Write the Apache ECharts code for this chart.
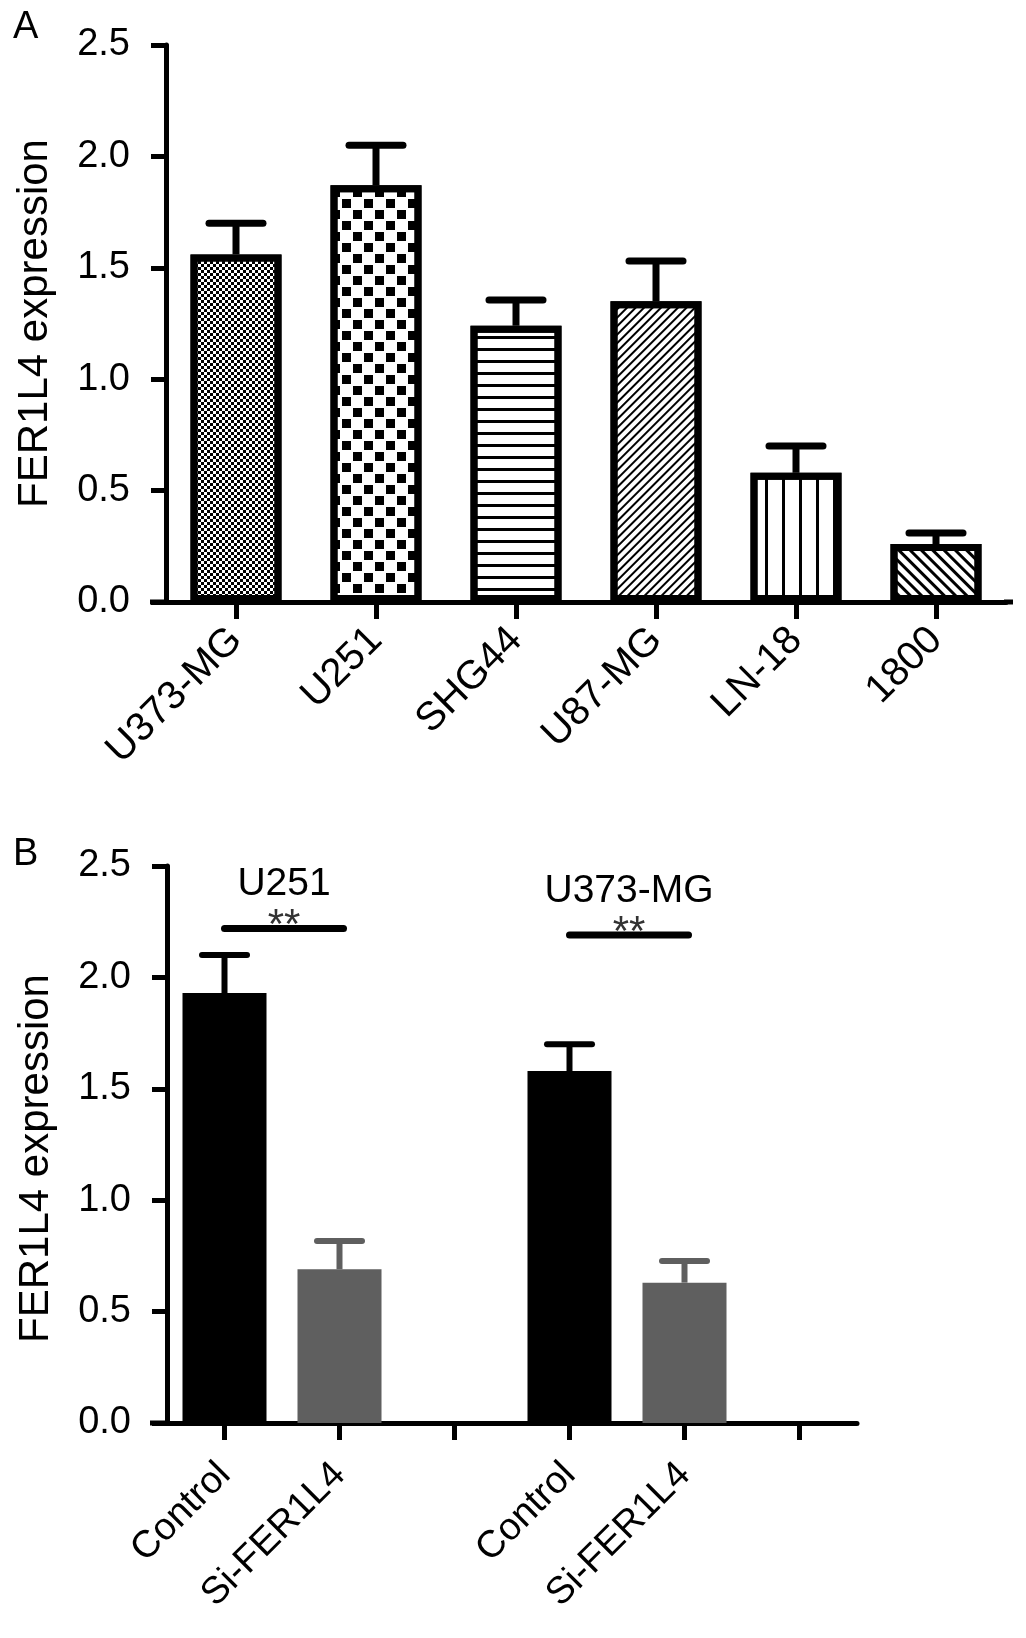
<!DOCTYPE html>
<html><head><meta charset="utf-8">
<script src="https://cdn.jsdelivr.net/npm/echarts@6/dist/echarts.min.js"></script>
<style>html,body{margin:0;padding:0;background:#fff}#c{width:1026px;height:1638px}</style>
</head><body><div id="c"></div>
<script>
// ---- data ----
const catsA = ['U373-MG', 'U251', 'SHG44', 'U87-MG', 'LN-18', '1800'];
const meanA = [1.56, 1.87, 1.24, 1.35, 0.58, 0.26];
const errTopA = [1.70, 2.05, 1.355, 1.53, 0.70, 0.31];

const catsB = ['Control', 'Si-FER1L4', '', 'Control', 'Si-FER1L4', ''];
const meanB = [1.93, 0.69, null, 1.58, 0.63, null];
const errTopB = [2.10, 0.817, null, 1.70, 0.727, null];
const groupLabelsB = ['U251', 'U373-MG'];
const sigPairsB = [[0, 1, 2.22], [3, 4, 2.19]];
const sigMarksB = ['**', '**'];

const yTickLabels = ['0.0', '0.5', '1.0', '1.5', '2.0', '2.5'];
const yName = 'FER1L4 expression';
const panelLetters = ['A', 'B'];

// ---- styles ----
const FONT = '"Liberation Sans", Arial, Helvetica, sans-serif';
const decalsA = [
  {symbol: 'rect', symbolSize: 1, color: '#000', dashArrayX: [[2.5, 2.5], [0, 2.5, 2.5, 0]], dashArrayY: [2.5, 0]},
  {symbol: 'rect', symbolSize: 0.82, color: '#000', dashArrayX: [[11, 11], [0, 11, 11, 0]], dashArrayY: [11, 0]},
  {symbol: 'rect', symbolSize: 1, color: '#000', dashArrayX: [1, 0], dashArrayY: [2.5, 8.5]},
  {symbol: 'rect', symbolSize: 1, color: '#000', dashArrayX: [1, 0], dashArrayY: [1.6, 3.4], rotation: -Math.PI / 4},
  {symbol: 'rect', symbolSize: 1, color: '#000', dashArrayX: [2.5, 13.5], dashArrayY: [1, 0]},
  {symbol: 'rect', symbolSize: 1, color: '#000', dashArrayX: [1, 0], dashArrayY: [2.6, 4.4], rotation: Math.PI / 4}
];
const colorsB = ['#000000', '#5f5f5f', '#000000', '#000000', '#5f5f5f', '#000000'];

function yAxisCfg(gi, pad) {
  return {
    type: 'value', gridIndex: gi, min: 0, max: 2.5, interval: 0.5,
    name: yName, nameLocation: 'middle', nameGap: 110,
    nameTextStyle: {fontSize: 42, color: '#000', fontFamily: FONT, padding: pad},
    axisLine: {show: true, lineStyle: {color: '#000', width: 5}},
    axisTick: {show: true, length: 15, lineStyle: {color: '#000', width: 5}},
    axisLabel: {fontSize: 38, color: '#000', fontFamily: FONT, margin: 36,
      formatter: (v) => yTickLabels[Math.round(v / 0.5)]},
    splitLine: {show: false}
  };
}
function xAxisCfg(gi, cats, fs, mg) {
  return {
    type: 'category', gridIndex: gi, data: cats,
    axisLine: {show: true, lineStyle: {color: '#000', width: 5}},
    axisTick: {show: true, alignWithLabel: true, length: 17, lineStyle: {color: '#000', width: 5}},
    axisLabel: {rotate: 45, interval: 0, fontSize: fs, color: '#000', fontFamily: FONT, margin: mg},
    splitLine: {show: false}
  };
}
function errRender(colorOf, capW, lw) {
  return function (params, api) {
    const i = api.value(0);
    const p0 = api.coord([i, api.value(1)]);
    const p1 = api.coord([i, api.value(2)]);
    const c = colorOf(i);
    return {type: 'group', children: [
      {type: 'line', shape: {x1: p0[0], y1: p0[1], x2: p1[0], y2: p1[1]}, style: {stroke: c, lineWidth: lw}},
      {type: 'line', shape: {x1: p1[0] - capW / 2, y1: p1[1], x2: p1[0] + capW / 2, y2: p1[1]},
        style: {stroke: c, lineWidth: lw, lineCap: 'round'}}
    ]};
  };
}

const errDataA = meanA.map((m, i) => [i, m, errTopA[i]]);
const errDataB = [];
meanB.forEach((m, i) => { if (m != null) errDataB.push([i, m, errTopB[i]]); });
const sigData = sigPairsB.map((p, k) => [p[0], p[1], p[2], k]);

const option = {
  animation: false,
  backgroundColor: '#fff',
  textStyle: {fontFamily: FONT},
  grid: [
    {left: 166, top: 45, width: 840, height: 557, containLabel: false, outerBoundsMode: 'none'},
    {left: 167, top: 866, width: 690, height: 557, containLabel: false, outerBoundsMode: 'none'}
  ],
  xAxis: [xAxisCfg(0, catsA, 40, 32), xAxisCfg(1, catsB, 38, 46)],
  yAxis: [yAxisCfg(0, [0, 0, 0, 0]), yAxisCfg(1, [0, 28, 0, 0])],
  series: [
    {
      type: 'bar', xAxisIndex: 0, yAxisIndex: 0, barWidth: 91,
      itemStyle: {color: '#fff', borderColor: '#000', borderWidth: 7},
      data: meanA.map((v, i) => ({value: v, itemStyle: {decal: decalsA[i]}})),
      z: 2
    },
    {
      type: 'custom', xAxisIndex: 0, yAxisIndex: 0, z: 1,
      renderItem: errRender(() => '#000', 54, 7),
      encode: {x: 0, y: [1, 2]}, data: errDataA
    },
    {
      type: 'bar', xAxisIndex: 1, yAxisIndex: 1, barWidth: 84,
      data: meanB.map((v, i) => ({value: v, itemStyle: {color: colorsB[i]}})),
      z: 2
    },
    {
      type: 'custom', xAxisIndex: 1, yAxisIndex: 1, z: 1,
      renderItem: errRender((i) => colorsB[i], 45, 6),
      encode: {x: 0, y: [1, 2]}, data: errDataB
    },
    {
      type: 'custom', xAxisIndex: 1, yAxisIndex: 1, z: 3,
      renderItem: function (params, api) {
        const a = api.coord([api.value(0), api.value(2)]);
        const b = api.coord([api.value(1), api.value(2)]);
        const k = api.value(3);
        const mx = (a[0] + b[0]) / 2 + 2;
        return {type: 'group', children: [
          {type: 'line', shape: {x1: a[0], y1: a[1], x2: b[0] + 4, y2: b[1]},
            style: {stroke: '#000', lineWidth: 7, lineCap: 'round'}},
          {type: 'text', x: mx, y: a[1] - 2,
            style: {text: sigMarksB[k], fontSize: 42, fill: '#333', fontFamily: FONT,
              align: 'center', verticalAlign: 'middle', textAlign: 'center', textVerticalAlign: 'middle'}},
          {type: 'text', x: mx, y: a[1] - 44,
            style: {text: groupLabelsB[k], fontSize: 39, fill: '#000', fontFamily: FONT,
              align: 'center', verticalAlign: 'middle', textAlign: 'center', textVerticalAlign: 'middle'}}
        ]};
      },
      encode: {x: [0, 1], y: 2}, data: sigData
    }
  ]
};
const chart = echarts.init(document.getElementById('c'), null, {renderer: 'canvas'});
chart.setOption(option);

// Prism-style axis extensions and panel letters
const yA0 = chart.convertToPixel({yAxisIndex: 0}, 0);
const yB0 = chart.convertToPixel({yAxisIndex: 1}, 0);
chart.setOption({
  graphic: [
    {type: 'text', left: 13, top: 9, style: {text: panelLetters[0], fontSize: 38, fill: '#000', fontFamily: FONT}},
    {type: 'text', left: 13, top: 836, style: {text: panelLetters[1], fontSize: 38, fill: '#000', fontFamily: FONT}},
    {type: 'line', shape: {x1: 150, y1: yA0, x2: 168, y2: yA0}, style: {stroke: '#000', lineWidth: 5}},
    {type: 'line', shape: {x1: 1004, y1: yA0, x2: 1013, y2: yA0}, style: {stroke: '#000', lineWidth: 5}},
    {type: 'line', shape: {x1: 150, y1: yB0, x2: 169, y2: yB0}, style: {stroke: '#000', lineWidth: 5}}
  ]
});
</script>
</body></html>
